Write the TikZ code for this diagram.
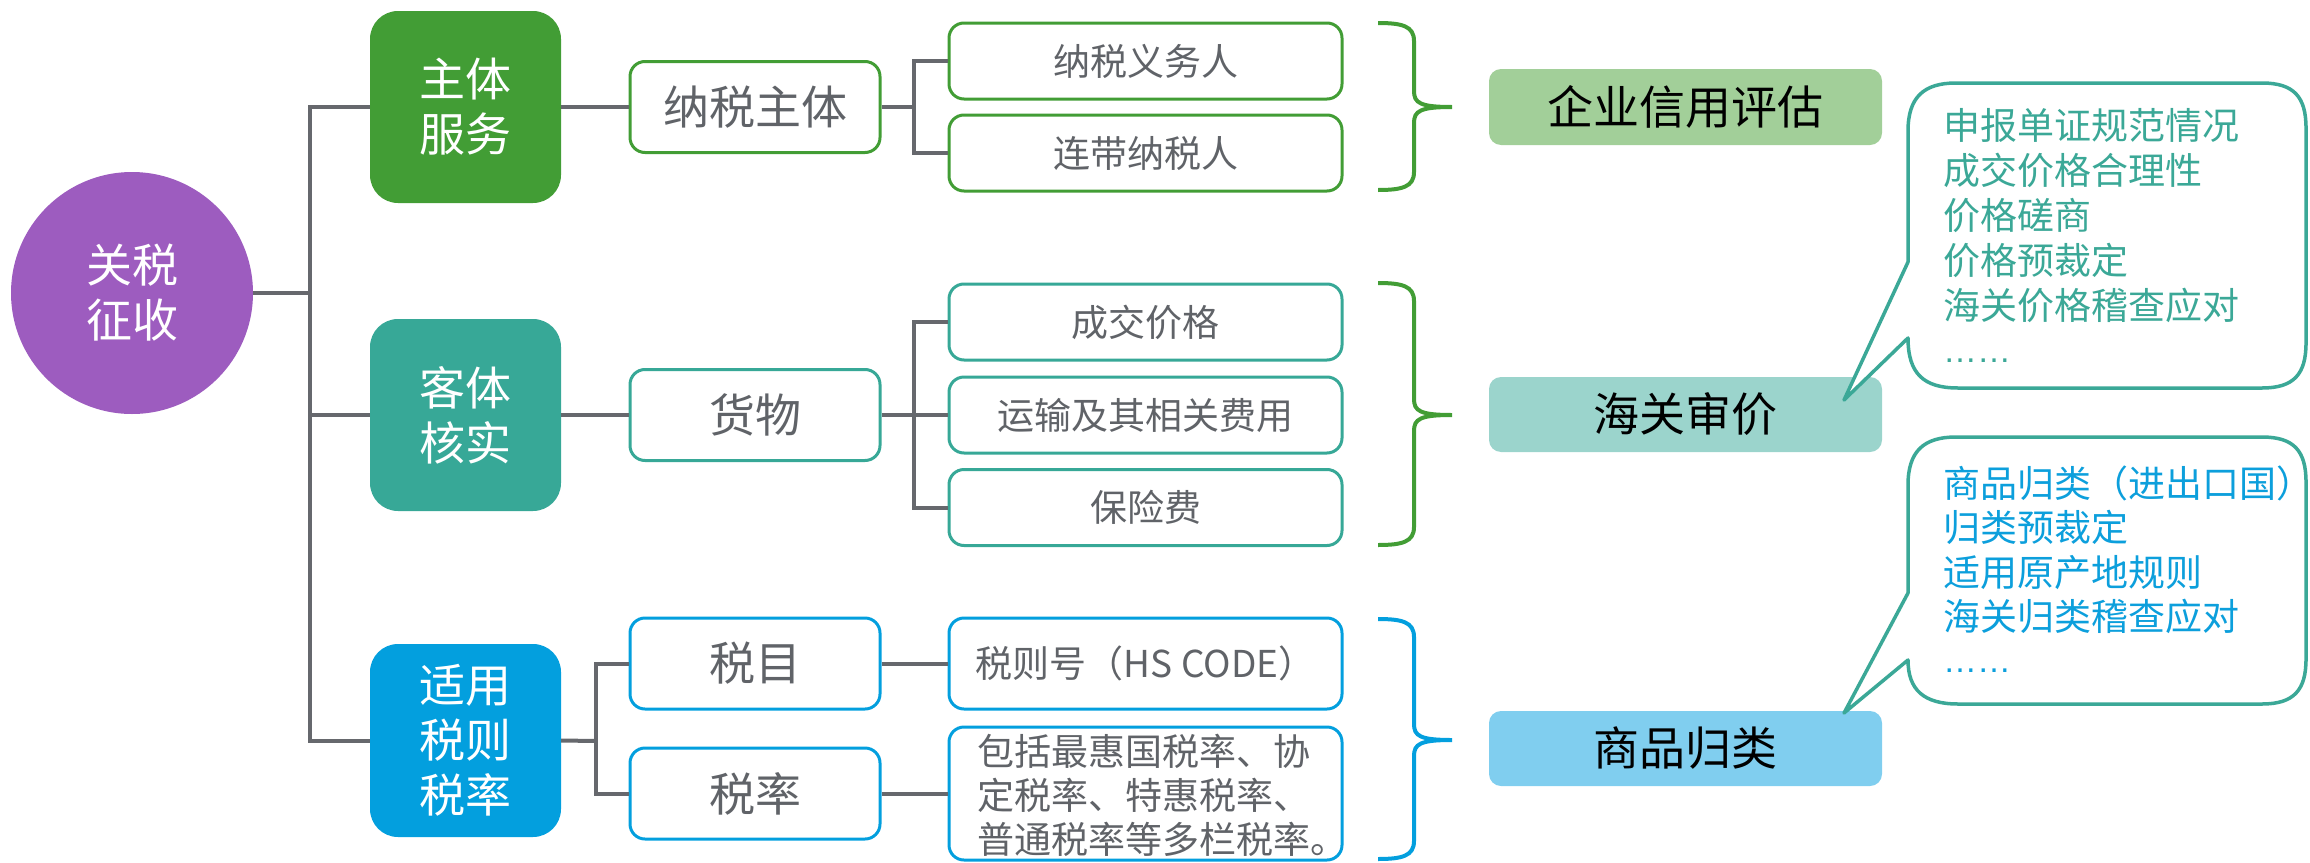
\documentclass[tikz,border=0pt]{standalone}
\usepackage{fontspec}
\setmainfont{Noto Sans CJK SC}
\newfontfamily\latinf{Liberation Sans}
\definecolor{cpurple}{HTML}{9D5CBF}
\definecolor{cgreen}{HTML}{429D35}
\definecolor{cteal}{HTML}{37A897}
\definecolor{cblue}{HTML}{039FDE}
\definecolor{clgreen}{HTML}{A2CF99}
\definecolor{clteal}{HTML}{9BD4CC}
\definecolor{clblue}{HTML}{80CEEF}
\definecolor{cline}{HTML}{66686D}
\definecolor{ctext}{HTML}{606368}
\definecolor{cbteal}{HTML}{3BA897}
\definecolor{cbblue}{HTML}{0C9FDC}
\newcommand\fA{\fontsize{46}{55}\selectfont}
\newcommand\fB{\fontsize{37}{44}\selectfont}
\newcommand\mybrace[4]{%
  \draw[brace,#4] (1378,#1) .. controls (1402,#1) and (1414,#1+3) .. (1414,#1+18)
    -- (1414,#2-16) .. controls (1414,#2-4) and (1420,#2) .. (1452,#2)
    .. controls (1420,#2) and (1414,#2+4) .. (1414,#2+16)
    -- (1414,#3-18) .. controls (1414,#3-3) and (1402,#3) .. (1378,#3);}
\newcommand\mybubble[5]{%
  \draw[bubble] (1844,#5) -- (1908,#4)
    .. controls (1908,#2-14) and (1924,#2) .. (1958,#2)
    -- (2262,#2) .. controls (2294,#2) and (2306,#2-14) .. (2306,#2-45)
    -- (2306,#1+45) .. controls (2306,#1+14) and (2294,#1) .. (2262,#1)
    -- (1956,#1) .. controls (1924,#1) and (1908,#1+14) .. (1908,#1+48)
    -- (1908,#3) -- cycle;}
\begin{document}
\begin{tikzpicture}[x=1pt,y=-1pt,
  conn/.style={draw=cline,line width=4pt},
  bigbox/.style={rounded corners=28pt,minimum width=191pt,minimum height=192pt,inner sep=0pt,text=white,font=\fA,align=center},
  midbox/.style={draw=#1,fill=white,line width=3pt,rounded corners=15pt,minimum width=250pt,minimum height=91pt,inner sep=0pt,text=ctext,font=\fA},
  leafbox/.style={draw=#1,fill=white,line width=3pt,rounded corners=15pt,minimum width=393pt,minimum height=76pt,inner sep=0pt,text=ctext,font=\fB},
  resbox/.style={fill=#1,rounded corners=12pt,minimum width=393pt,minimum height=76pt,inner sep=0pt,text=black,font=\fA},
  brace/.style={line width=4pt},
  bubble/.style={draw=cbteal,line width=3.5pt,fill=white,line join=round},
  btxt/.style={font=\fB,text=#1,inner sep=0pt,anchor=base west}]
\useasboundingbox (0,0) rectangle (2310,862);
% root
\node[circle,fill=cpurple,minimum size=242pt,inner sep=0pt,text=white,font=\fA,align=center] (root) at (132,293) {关税\\征收};
% level 1
\node[bigbox,fill=cgreen] (zt) at (465.5,107) {主体\\服务};
\node[bigbox,fill=cteal] (kt) at (465.5,415) {客体\\核实};
\node[bigbox,fill=cblue,minimum height=193pt] (sy) at (465.5,740.5) {适用\\税则\\税率};
% level 2
\node[midbox=cgreen] (ns) at (755,107) {纳税主体};
\node[midbox=cteal] (hw) at (755,415) {货物};
\node[midbox=cblue] (sm) at (755,663.5) {税目};
\node[midbox=cblue] (sl) at (755,793.5) {税率};
% level 3
\node[leafbox=cgreen] (a1) at (1145.5,61) {纳税义务人};
\node[leafbox=cgreen] (a2) at (1145.5,153) {连带纳税人};
\node[leafbox=cteal] (b1) at (1145.5,322) {成交价格};
\node[leafbox=cteal] (b2) at (1145.5,415) {运输及其相关费用};
\node[leafbox=cteal] (b3) at (1145.5,507.5) {保险费};
\node[leafbox=cblue,minimum height=91pt] (c1) at (1145.5,663.5) {税则号（HS CODE）};
\node[leafbox=cblue,minimum height=133pt] (c2) at (1145.5,793.5) {};
\node[font=\fB,text=ctext,align=left,inner sep=0pt,anchor=west] (c2t) at (977,795) {包括最惠国税率、协\\定税率、特惠税率、\\普通税率等多栏税率。};
% connectors
\coordinate (j0) at (310,293);
\coordinate (j1) at (914,107);
\coordinate (j2) at (914,415);
\coordinate (j3) at (596,741);
\draw[conn] (root.east) -- (j0);
\draw[conn] (zt.west) -| (j0) |- (sy.west);
\draw[conn] (kt.west) -- (kt.west -| j0);
\draw[conn] (zt.east) -- (ns.west);
\draw[conn] (ns.east) -- (j1);
\draw[conn] (a1.west) -| (j1) |- (a2.west);
\draw[conn] (kt.east) -- (hw.west);
\draw[conn] (hw.east) -- (b2.west);
\draw[conn] (b1.west) -| (j2) |- (b3.west);
\draw[conn] (sy.east) -- (j3);
\draw[conn] (sm.west) -| (j3) |- (sl.west);
\draw[conn] (sm.east) -- (c1.west);
\draw[conn] (sl.east) -- (c2.west |- sl.east);
% braces
\mybrace{23}{107}{190}{draw=cgreen}
\mybrace{283}{415}{545}{draw=cgreen}
\mybrace{619}{740}{859}{draw=cblue}
% results
\node[resbox=clgreen] (r1) at (1685.5,107) {企业信用评估};
\node[resbox=clteal,minimum height=75pt] (r2) at (1685.5,414.5) {海关审价};
\node[resbox=clblue,minimum height=75pt] (r3) at (1685.5,748.5) {商品归类};
% bubbles
\mybubble{83}{388}{262}{338}{400}
\mybubble{437}{704}{593}{660}{713}
\foreach \t [count=\i from 0] in {申报单证规范情况,成交价格合理性,价格磋商,价格预裁定,海关价格稽查应对}
  \node[btxt=cbteal] (p\i) at (1943,{139+45*\i}) {\t};
\node[btxt=cbteal] (p5) at (1943,362) {\latinf\fontsize{34}{40}\selectfont ……};
\foreach \t [count=\i from 0] in {商品归类（进出口国）,归类预裁定,适用原产地规则,海关归类稽查应对}
  \node[btxt=cbblue] (q\i) at (1943,{497+44.5*\i}) {\t};
\node[btxt=cbblue] (q4) at (1943,672) {\latinf\fontsize{34}{40}\selectfont ……};
\end{tikzpicture}
\end{document}
